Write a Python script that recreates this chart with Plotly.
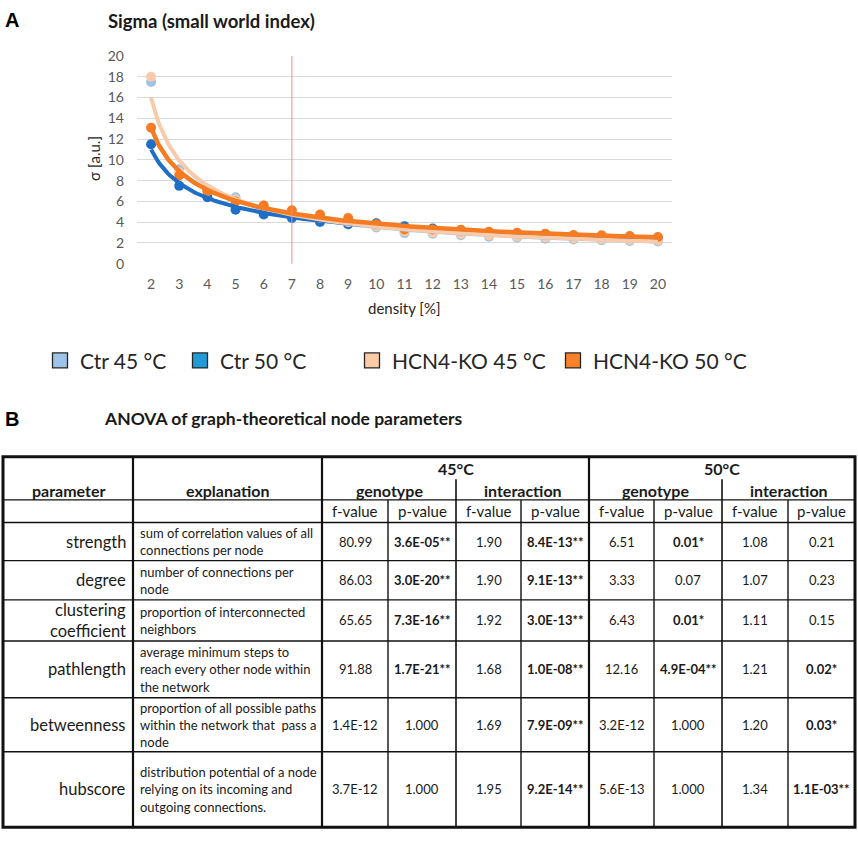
import numpy as np
import plotly.graph_objects as go

# ---- panel A data (sigma vs density) ----
density = [2, 3, 4, 5, 6, 7, 8, 9, 10, 11, 12, 13, 14, 15, 16, 17, 18, 19, 20]
ctr45 = [17.5, 9.1, 7.0, 6.4, 5.3, 4.5, 4.0, 3.8, 3.5, 2.95, 2.9, 2.74, 2.6, 2.52, 2.4, 2.33, 2.26, 2.2, 2.14]
ctr50 = [11.5, 7.5, 6.4, 5.2, 4.75, 4.4, 4.05, 3.8, 3.9, 3.6, 3.4, 3.15, 3.0, 2.9, 2.8, 2.7, 2.62, 2.55, 2.48]
hcn45 = [18.0, 8.8, 7.0, 6.2, 5.6, 4.8, 4.4, 4.0, 3.6, 3.1, 3.0, 2.85, 2.72, 2.62, 2.52, 2.44, 2.37, 2.3, 2.25]
hcn50 = [13.1, 8.5, 7.0, 6.0, 5.6, 5.15, 4.75, 4.4, 3.8, 3.3, 3.3, 3.27, 3.08, 2.99, 2.9, 2.77, 2.74, 2.67, 2.58]
series_names = ['Ctr 45 °C', 'Ctr 50 °C', 'HCN4-KO 45 °C', 'HCN4-KO 50 °C']
threshold_density = 7

# ---- panel B data (ANOVA table) ----
params = ['strength', 'degree', 'clustering<br>coefficient', 'pathlength', 'betweenness', 'hubscore']
explanations = ['sum of correlation values of all<br>connections per node',
                'number of connections per<br>node',
                'proportion of interconnected<br>neighbors',
                'average minimum steps to<br>reach every other node within<br>the network',
                'proportion of all possible paths<br>within the network that  pass a<br>node',
                'distribution potential of a node<br>relying on its incoming and<br>outgoing connections.']
f45_geno = ['80.99', '86.03', '65.65', '91.88', '1.4E-12', '3.7E-12']
p45_geno = ['3.6E-05**', '3.0E-20**', '7.3E-16**', '1.7E-21**', '1.000', '1.000']
f45_int = ['1.90', '1.90', '1.92', '1.68', '1.69', '1.95']
p45_int = ['8.4E-13**', '9.1E-13**', '3.0E-13**', '1.0E-08**', '7.9E-09**', '9.2E-14**']
f50_geno = ['6.51', '3.33', '6.43', '12.16', '3.2E-12', '5.6E-13']
p50_geno = ['0.01*', '0.07', '0.01*', '4.9E-04**', '1.000', '1.000']
f50_int = ['1.08', '1.07', '1.11', '1.21', '1.20', '1.34']
p50_int = ['0.21', '0.23', '0.15', '0.02*', '0.03*', '1.1E-03**']

# ---- styling / layout constants ----
W, H = 858, 843
FONT = 'Lato'
TXT = '#1a1a1a'
point_colors = ['#9DC3E6', '#1F6FC6', '#F8CBAD', '#F57C22']
legend_colors = ['#9DC3E6', '#219BD7', '#FBCAA7', '#F8812A']
trend_widths = [2, 4, 4, 4.5]
legend_x = [40, 180, 352, 553]
col_edges = [3, 133, 322, 388, 456, 521, 589, 654, 722, 788, 855]
row_edges = [457, 501, 524, 563, 603, 645, 703, 758, 835]

fig = go.Figure()

# points
for name, vals, col in zip(series_names, [ctr45, ctr50, hcn45, hcn50], point_colors):
    fig.add_trace(go.Scatter(x=density, y=vals, mode='markers', name=name,
                             marker=dict(color=col, size=10), showlegend=False))

# power trendlines (Excel style: fitted on category index 1..n)
idx = np.arange(1, len(density) + 1)
xx = np.linspace(1, len(density), 300)
for name, vals, col, lw in zip(series_names, [ctr45, ctr50, hcn45, hcn50], point_colors, trend_widths):
    b, loga = np.polyfit(np.log(idx), np.log(vals), 1)
    fig.add_trace(go.Scatter(x=xx + density[0] - 1, y=np.exp(loga) * xx ** b, mode='lines',
                             line=dict(color=col, width=lw), showlegend=False, hoverinfo='skip'))

# legend-only entries, each in its own legend
for i, (name, col) in enumerate(zip(series_names, legend_colors)):
    lg = 'legend' if i == 0 else f'legend{i + 1}'
    fig.add_trace(go.Scatter(x=[None], y=[None], mode='markers', name=name, legend=lg,
                             marker=dict(symbol='square', size=15, color=col,
                                         line=dict(color='#262626', width=1.3))))
    fig.update_layout({lg: dict(x=legend_x[i] / W, y=1 - 359 / H, xanchor='left', yanchor='middle',
                                bgcolor='rgba(0,0,0,0)', borderwidth=0,
                                font=dict(family=FONT, size=21, color='#262626'))})

fig.add_vline(x=threshold_density, line=dict(color='#F28B8B', width=1), layer='above')

# empty trace to hold the table coordinate system
fig.add_trace(go.Scatter(x=[None], y=[None], xaxis='x2', yaxis='y2', showlegend=False, hoverinfo='skip'))

# ---- table grid ----
def seg(x0, y0, x1, y1, w):
    fig.add_shape(type='line', x0=x0, y0=y0, x1=x1, y1=y1, xref='x2', yref='y2',
                  line=dict(color='#111111', width=w))

left, right, top, bottom = col_edges[0], col_edges[-1], row_edges[0], row_edges[-1]
for y in row_edges[1:-1]:
    seg(left, y, right, y, 1.4)
for x in [col_edges[1], col_edges[2], col_edges[6]]:
    seg(x, top, x, bottom, 2.2)
for x in [col_edges[4], col_edges[8]]:
    seg(x, 480, x, bottom, 1.6)
for x in [col_edges[3], col_edges[5], col_edges[7], col_edges[9]]:
    seg(x, row_edges[1], x, bottom, 1.4)
fig.add_shape(type='rect', x0=left, y0=top, x1=right, y1=bottom, xref='x2', yref='y2',
              line=dict(color='#111111', width=3))

anns = []
def txt(x, y, s, size=12, anchor='center', bold=False, family=FONT, color=TXT, angle=0):
    anns.append(dict(x=x, y=y, xref='x2', yref='y2', text=f'<b>{s}</b>' if bold else s,
                     showarrow=False, xanchor=anchor, yanchor='middle', textangle=angle,
                     font=dict(family=family, size=size, color=color)))

# panel A texts
txt(3, 11, 'A', 20, 'left', True, 'Liberation Sans', '#000000')
txt(106, 12, 'Sigma (small world index)', 18.5, 'left', True)
txt(94, 153, 'σ [a.u.]', 15, angle=-90, color='#262626')
txt(404, 305, 'density [%]', 15, color='#262626')

# panel B texts
txt(3, 418, 'B', 20, 'left', True, 'Liberation Sans', '#000000')
txt(102, 418, 'ANOVA of graph-theoretical node parameters', 17.5, 'left', True)

mid = lambda a, b: (a + b) / 2
txt(mid(col_edges[0], col_edges[1]), 491, 'parameter', 16, bold=True)
txt(mid(col_edges[1], col_edges[2]), 491, 'explanation', 16, bold=True)
txt(mid(col_edges[2], col_edges[6]), 469, '45°C', 16, bold=True)
txt(mid(col_edges[6], col_edges[10]), 469, '50°C', 16, bold=True)
for a, b, lab in [(2, 4, 'genotype'), (4, 6, 'interaction'), (6, 8, 'genotype'), (8, 10, 'interaction')]:
    txt(mid(col_edges[a], col_edges[b]), 491, lab, 16, bold=True)
for k in range(2, 10):
    txt(mid(col_edges[k], col_edges[k + 1]), mid(row_edges[1], row_edges[2]),
        'f-value' if k % 2 == 0 else 'p-value', 15)

columns = [f45_geno, p45_geno, f45_int, p45_int, f50_geno, p50_geno, f50_int, p50_int]
for r in range(len(params)):
    yc = mid(row_edges[r + 2], row_edges[r + 3])
    plines = params[r].split('<br>')
    for j, s in enumerate(plines):
        txt(col_edges[1] - 5, yc + (j - (len(plines) - 1) / 2) * 21, s, 16.5, 'right')
    elines = explanations[r].split('<br>')
    for j, s in enumerate(elines):
        txt(col_edges[1] + 5, yc + (j - (len(elines) - 1) / 2) * 17.5, s, 13, 'left')
    for k, col in enumerate(columns):
        s = col[r]
        txt(mid(col_edges[k + 2], col_edges[k + 3]), yc, s, 13, bold='*' in s)

fig.update_layout(
    width=W, height=H,
    margin=dict(l=0, r=0, t=0, b=0),
    paper_bgcolor='white', plot_bgcolor='rgba(0,0,0,0)',
    font=dict(family=FONT, color=TXT),
    annotations=anns,
    xaxis=dict(domain=[137 / W, 672 / W], range=[1.5, 20.5], tickvals=density,
               showgrid=False, zeroline=False, showline=False, ticks='',
               tickfont=dict(family=FONT, size=14, color='#595959'), ticklabelstandoff=10),
    yaxis=dict(domain=[1 - 260 / H, 1 - 48 / H], range=[0, 20], dtick=2,
               showgrid=True, gridcolor='#D9D9D9', gridwidth=1, zeroline=False, showline=False,
               ticks='', tickfont=dict(family=FONT, size=14, color='#595959'), ticklabelstandoff=12),
    xaxis2=dict(domain=[0, 1], range=[0, W], anchor='y2', visible=False, fixedrange=True),
    yaxis2=dict(domain=[0, 1], range=[H, 0], anchor='x2', visible=False, fixedrange=True),
)

fig.write_html('out.html', config={'displayModeBar': False},
               post_script="document.body.style.margin='0';")
